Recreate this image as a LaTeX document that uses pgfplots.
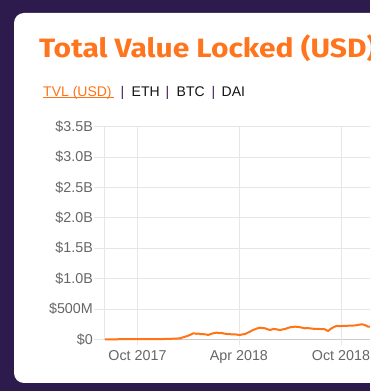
\documentclass[border=0pt]{standalone}
\usepackage{pgfplots}
\pgfplotsset{compat=1.18}
\usepackage{fontspec}
\setmainfont{Liberation Sans}
\newfontfamily\titlefont{Fira Sans}
\definecolor{bgpurple}{RGB}{46,27,78}
\definecolor{tvlorange}{RGB}{255,116,22}
\definecolor{titleorange}{RGB}{255,117,30}
\definecolor{gridc}{RGB}{230,230,230}
\definecolor{axisc}{RGB}{204,204,204}
\definecolor{ticktext}{RGB}{102,102,102}
\definecolor{sepc}{RGB}{72,28,88}
\definecolor{tabtext}{RGB}{20,20,20}

\pgfplotstableread{
d v
-58 0.000
-30 0.001
0 0.002
20 0.002
45 0.004
58 0.008
70 0.012
76 0.016
82 0.033
88 0.050
91 0.059
96 0.080
100 0.099
103 0.095
106 0.090
109 0.094
112 0.087
117 0.085
121 0.082
124 0.078
127 0.071
131 0.085
136 0.099
139 0.104
142 0.109
146 0.103
151 0.104
155 0.095
160 0.087
165 0.085
169 0.082
175 0.082
180 0.075
184 0.071
188 0.080
193 0.087
197 0.105
202 0.125
206 0.148
211 0.165
215 0.180
220 0.191
224 0.185
229 0.181
233 0.165
238 0.153
242 0.165
247 0.170
251 0.160
256 0.153
260 0.162
265 0.170
269 0.185
274 0.198
278 0.200
283 0.208
287 0.203
292 0.198
296 0.190
300 0.181
305 0.184
309 0.181
314 0.175
318 0.170
323 0.172
327 0.170
332 0.168
336 0.165
339 0.150
342 0.137
345 0.160
348 0.181
353 0.205
357 0.219
363 0.218
369 0.219
375 0.222
381 0.224
387 0.226
393 0.231
398 0.240
402 0.247
405 0.242
408 0.236
411 0.220
414 0.208
417 0.209
}\tvldata

\begin{document}
\begin{tikzpicture}
\fill[bgpurple] (0pt,0pt) rectangle (370pt,391pt);
\begin{scope}
\clip (0pt,0pt) rectangle (370pt,391pt);
\pgfinterruptboundingbox
\fill[white, rounded corners=10pt] (14pt,8pt) rectangle (400pt,378pt);
\node[anchor=base west, inner sep=0pt, text=titleorange] at (39pt,333.7pt)
  {\scalebox{1.132}[1]{\titlefont\bfseries\fontsize{26.5}{30}\selectfont Total Value Locked (USD)}};
\endpgfinterruptboundingbox

\begin{scope}[every node/.style={anchor=base west, inner sep=0pt, font=\fontsize{14}{16}\selectfont}]
\node[text=tvlorange] at (43pt,294.8pt) {TVL (USD)};
\node[text=sepc] at (120.5pt,294.8pt) {|};
\node[text=tabtext] at (131.5pt,294.8pt) {ETH};
\node[text=sepc] at (165.5pt,294.8pt) {|};
\node[text=tabtext] at (176.5pt,294.8pt) {BTC};
\node[text=sepc] at (211.5pt,294.8pt) {|};
\node[text=tabtext] at (221.5pt,294.8pt) {DAI};
\end{scope}
\draw[tvlorange, line width=0.9pt] (43pt,293.1pt) -- (114pt,293.1pt);

\begin{axis}[
  at={(104pt,51.7pt)}, anchor=south west,
  scale only axis, width=265.5pt, height=212.8pt,
  xmin=-60, xmax=416.2, ymin=0, ymax=3.5,
  clip=false,
  axis lines*=left,
  x axis line style={draw=axisc, line width=0.8pt},
  y axis line style={draw=gridc, line width=0.8pt},
  grid=major,
  major grid style={draw=gridc, line width=0.8pt},
  tick align=outside,
  major tick length=10pt,
  ytick style={draw=gridc, line width=0.8pt},
  xtick style={draw=none},
  xtick={0,182,365},
  xticklabels={Oct 2017,Apr 2018,Oct 2018},
  ytick={0,0.5,1,1.5,2,2.5,3,3.5},
  yticklabels={\$0,\$500M,\$1.0B,\$1.5B,\$2.0B,\$2.5B,\$3.0B,\$3.5B},
  /pgf/number format/assume math mode=true,
  tick label style={font=\fontsize{14.3}{16}\selectfont, text=ticktext},
  yticklabel style={inner sep=1pt},
  xticklabel style={inner sep=1pt},
]
\draw[gridc, line width=0.8pt] (axis cs:0,0) -- ++(0pt,-6pt);
\draw[gridc, line width=0.8pt] (axis cs:182,0) -- ++(0pt,-6pt);
\draw[gridc, line width=0.8pt] (axis cs:365,0) -- ++(0pt,-6pt);
\addplot[tvlorange, line width=2pt, line join=round] table[x=d, y=v] {\tvldata};
\end{axis}
\end{scope}
\end{tikzpicture}
\end{document}
